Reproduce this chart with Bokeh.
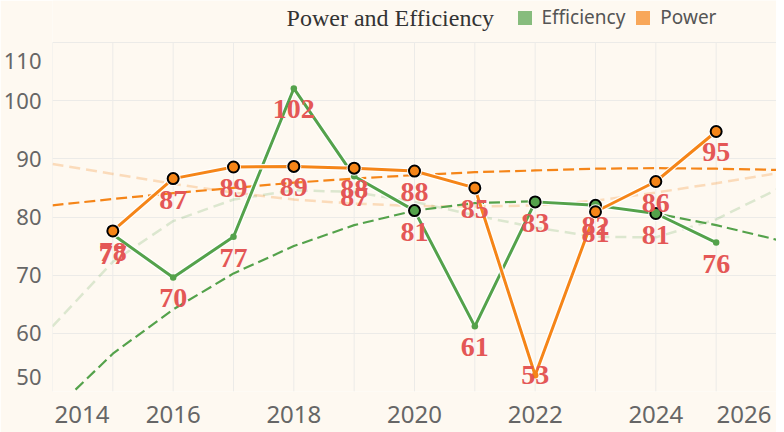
from bokeh.plotting import figure
from bokeh.models import ColumnDataSource, FixedTicker, Legend, LegendItem, Label
from bokeh.core.properties import value
from bokeh.embed import file_html
from bokeh.resources import INLINE

# ---- data ----
years = [2015, 2016, 2017, 2018, 2019, 2020, 2021, 2022, 2023, 2024, 2025]
efficiency = [77.0, 69.6, 76.6, 102.1, 87.0, 81.1, 61.2, 82.6, 82.0, 80.6, 75.6]
power = [77.6, 86.6, 88.6, 88.7, 88.4, 87.9, 85.0, 52.8, 80.9, 86.1, 94.7]
efficiency_marked = [0, 0, 0, 0, 0, 1, 0, 1, 1, 1, 0]
power_marked = [1, 1, 1, 1, 1, 1, 1, 0, 1, 1, 1]

trend_years = [2014, 2015, 2016, 2017, 2018, 2019, 2020, 2021, 2022, 2023, 2024, 2025, 2026]
efficiency_trend = [46.5, 56.5, 64.1, 70.3, 75.0, 78.6, 81.1, 82.4, 82.7, 82.0, 80.6, 78.6, 76.1]
efficiency_trend_soft = [61.2, 72.3, 79.3, 83.0, 84.6, 84.3, 82.6, 80.3, 78.2, 76.6, 76.5, 79.6, 84.7]
power_trend = [82.0, 83.1, 84.1, 85.0, 85.9, 86.6, 87.2, 87.7, 88.0, 88.3, 88.4, 88.3, 88.1]
power_trend_soft = [89.1, 87.4, 85.7, 84.2, 83.0, 82.3, 81.9, 81.8, 82.0, 82.8, 84.2, 85.8, 87.5]

x_tick_labels = ["2014", "2016", "2018", "2020", "2022", "2024", "2026"]
y_tick_labels = ["50", "60", "70", "80", "90", "100", "110"]
series_names = ["Efficiency", "Power"]
title_text = "Power and Efficiency"

# ---- style / layout ----
BG = "#fef9f1"
GREEN = "#54a24b"
ORANGE = "#f58518"
RED = "#e45756"
GRID = "#ecebe8"
X0, X1 = 2014, 2026
Y0, Y1 = 50, 110
PLOT_H = 349          # pixel height of the 50..110 area
HEADER_H = 42         # header strip (title + legend) kept inside the frame
W, H = 776, 432
LEFT, BOTTOM = 43, 41
ppu = PLOT_H / (Y1 - Y0)
ppx = (W - LEFT) / (X1 - X0)
Y_TOP = Y1 + HEADER_H / ppu
NAN = float("nan")

p = figure(width=W, height=H, x_range=(X0, X1), y_range=(Y0, Y_TOP),
           output_backend="svg", toolbar_location=None,
           min_border_left=LEFT, min_border_right=0, min_border_top=0, min_border_bottom=BOTTOM,
           background_fill_color=BG, border_fill_color=BG, outline_line_color=None)

# grids: horizontal every 10, vertical every year (only across the 50..110 area)
p.xgrid.visible = False
p.ygrid.ticker = FixedTicker(ticks=list(range(Y0, Y1 + 1, 10)))
p.ygrid.grid_line_color = GRID
grid_years = list(range(X0, X1 + 1))
p.segment(x0=grid_years, y0=[Y0] * len(grid_years), x1=grid_years, y1=[Y1] * len(grid_years),
          line_color=GRID, line_width=1)

# axes with flushed edge labels
xt = [float(t) for t in x_tick_labels]
xt[0] += 0.49
xt[-1] -= 0.54
p.xaxis.ticker = FixedTicker(ticks=xt)
p.xaxis.major_label_overrides = {t: s for t, s in zip(xt, x_tick_labels)}
yt = [float(t) for t in y_tick_labels]
yt[0] += 2.5
yt[-1] -= 3.1
p.yaxis.ticker = FixedTicker(ticks=yt)
p.yaxis.major_label_overrides = {t: s for t, s in zip(yt, y_tick_labels)}
for ax in p.axis:
    ax.axis_line_color = None
    ax.major_tick_line_color = None
    ax.minor_tick_line_color = None
    ax.major_label_text_font = "Noto Sans"
    ax.major_label_text_color = "#666666"
p.xaxis.major_label_text_font_size = "24px"
p.yaxis.major_label_text_font_size = "22px"
p.xaxis.major_label_standoff = 8
p.yaxis.major_label_standoff = 5

# trend lines
p.line(trend_years, efficiency_trend_soft, line_color=GREEN, line_alpha=0.2, line_width=2.5, line_dash="11 6")
p.line(trend_years, power_trend_soft, line_color=ORANGE, line_alpha=0.25, line_width=2.5, line_dash="11 6")
p.line(trend_years, efficiency_trend, line_color=GREEN, line_width=2.2, line_dash="11 5")
p.line(trend_years, power_trend, line_color=ORANGE, line_width=2.2, line_dash="11 5")

# data lines with white casing
for vals, col in ((efficiency, GREEN), (power, ORANGE)):
    p.line(years, vals, line_color="white", line_width=5.5, line_alpha=0.9)
    p.line(years, vals, line_color=col, line_width=3)

for vals, marks, col in ((efficiency, efficiency_marked, GREEN), (power, power_marked, ORANGE)):
    mx = [x for x, m in zip(years, marks) if m]
    my = [v for v, m in zip(vals, marks) if m]
    sx = [x for x, m in zip(years, marks) if not m]
    sy = [v for v, m in zip(vals, marks) if not m]
    p.scatter(mx, my, marker="circle", size=15, fill_color="white", line_color=None, fill_alpha=0.9)
    p.scatter(mx, my, marker="circle", size=11, fill_color=col, line_color="black", line_width=2)
    p.scatter(sx, sy, marker="circle", size=6.5, fill_color=col, line_color=None)

# value labels below points (kept on the point if it would leave the plot)
for vals in (efficiency, power):
    offs = [0 if (v - 32 / ppu) < Y0 else 21 for v in vals]
    src = ColumnDataSource(dict(x=years, y=vals, t=[str(round(v)) for v in vals], o=offs))
    p.text(x="x", y="y", text="t", y_offset="o", source=src,
           text_font=value("Liberation Serif"), text_font_style="bold", text_font_size="28px",
           text_color=RED, text_align="center", text_baseline="middle")

# header: title text and legend
title = Label(x=X0 + (280 - LEFT) / ppx, y=Y_TOP - 17 / ppu, text=title_text,
              text_font="Liberation Serif", text_font_size="24px", text_color="#333333",
              text_align="left", text_baseline="alphabetic")
p.add_layout(title)

# legend proxies: one invisible (NaN) row each, so the legend can draw a square
r_e = p.scatter(x=[NAN], y=[NAN], marker="square", fill_color=GREEN, fill_alpha=0.7, line_color=None)
r_p = p.scatter(x=[NAN], y=[NAN], marker="square", fill_color=ORANGE, fill_alpha=0.7, line_color=None)
legend = Legend(items=[LegendItem(label=series_names[0], renderers=[r_e]),
                       LegendItem(label=series_names[1], renderers=[r_p])],
                orientation="horizontal", location=(454.5, PLOT_H + HEADER_H - 34.5),
                background_fill_alpha=0, border_line_color=None,
                padding=0, margin=0, spacing=0, glyph_width=35, glyph_height=35, label_standoff=0,
                label_text_font="Noto Sans", label_text_font_size="19px", label_text_color="#555555")
p.add_layout(legend)

open("out.html", "w").write(file_html(p, INLINE))
